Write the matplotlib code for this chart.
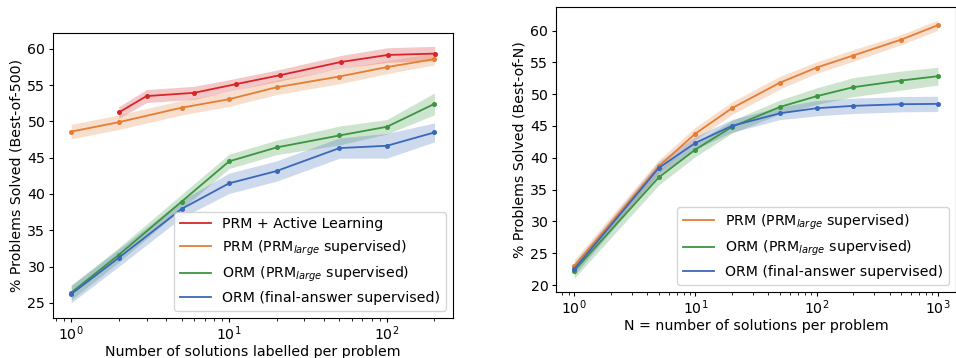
import numpy as np
import matplotlib
matplotlib.use('Agg')
import matplotlib.pyplot as plt

# left panel: active learning / labelling budget
n_lab = [1, 2, 5, 10, 20, 50, 100, 200]
n_lab_al = [2, 3, 6, 11, 21, 51, 101, 201]
al_prm = [51.24, 53.5, 53.95, 55.14, 56.38, 58.2, 59.17, 59.36]
al_prm_err = [0.8, 0.9, 0.9, 0.8, 0.8, 0.9, 1.0, 1.0]
lab_prm = [48.6, 49.9, 51.9, 53.07, 54.72, 56.2, 57.5, 58.6]
lab_prm_err = [1.0, 1.0, 1.0, 1.0, 1.0, 1.0, 0.9, 0.8]
lab_orm_prm = [26.4, 31.6, 38.94, 44.5, 46.42, 48.07, 49.27, 52.43]
lab_orm_prm_err = [1.0, 1.0, 1.0, 1.0, 1.0, 1.3, 1.0, 1.5]
lab_orm_fa = [26.2, 31.2, 37.94, 41.47, 43.17, 46.33, 46.65, 48.49]
lab_orm_fa_err = [1.2, 1.2, 1.2, 1.4, 1.4, 1.4, 1.7, 1.3]

# right panel: best-of-N
n_sol = [1, 5, 10, 20, 50, 100, 200, 500, 1000]
bon_prm = [22.95, 38.67, 43.8, 47.79, 51.82, 54.18, 56.07, 58.58, 60.84]
bon_prm_err = [1.0, 1.0, 1.0, 1.0, 1.0, 0.9, 0.9, 0.8, 0.8]
bon_orm_prm = [22.26, 36.94, 41.29, 44.85, 48.0, 49.68, 51.09, 52.14, 52.82]
bon_orm_prm_err = [1.2, 1.2, 1.1, 1.0, 1.1, 1.3, 1.5, 1.5, 1.4]
bon_orm_fa = [22.5, 38.41, 42.34, 45.01, 47.0, 47.79, 48.16, 48.42, 48.47]
bon_orm_fa_err = [1.0, 1.0, 1.0, 1.0, 1.0, 1.2, 1.2, 1.2, 1.2]

c_red = '#d62728'
c_orange = '#e47e35'
c_green = '#3b963f'
c_blue = '#3a68b8'

plt.rcParams.update({
    'font.size': 10.2,
    'xtick.major.size': 3,
    'ytick.major.size': 3,
    'xtick.minor.size': 2,
    'xtick.major.pad': 1.8,
    'ytick.major.pad': 2.5,
    'legend.fontsize': 10.2,
})


def curva(ax, x, y, err, cor, rotulo):
    y = np.array(y)
    err = np.array(err)
    ax.fill_between(x, y - err, y + err, color=cor, alpha=0.25, linewidth=0)
    ax.plot(x, y, color=cor, lw=1.3, label=rotulo)
    ax.plot(x, y, color=cor, ls='none', marker='o', markersize=2.6)


fig = plt.figure(figsize=(9.56, 3.58), dpi=100)
ax1 = fig.add_axes([53 / 956, 40 / 358, 400 / 956, 285 / 358])
ax2 = fig.add_axes([556 / 956, 66 / 358, 400 / 956, 285 / 358])

curva(ax1, n_lab_al, al_prm, al_prm_err, c_red, 'PRM + Active Learning')
curva(ax1, n_lab, lab_prm, lab_prm_err, c_orange, 'PRM (PRM$_{large}$ supervised)')
curva(ax1, n_lab, lab_orm_prm, lab_orm_prm_err, c_green, 'ORM (PRM$_{large}$ supervised)')
curva(ax1, n_lab, lab_orm_fa, lab_orm_fa_err, c_blue, 'ORM (final-answer supervised)')
ax1.set_xscale('log')
ax1.set_ylim(22.9, 62.2)
ax1.set_yticks([25, 30, 35, 40, 45, 50, 55, 60])
ax1.set_xlabel('Number of solutions labelled per problem', labelpad=1)
ax1.set_ylabel('% Problems Solved (Best-of-500)', labelpad=3)
ax1.legend(loc='lower right', handlelength=2.2)

curva(ax2, n_sol, bon_prm, bon_prm_err, c_orange, 'PRM (PRM$_{large}$ supervised)')
curva(ax2, n_sol, bon_orm_prm, bon_orm_prm_err, c_green, 'ORM (PRM$_{large}$ supervised)')
curva(ax2, n_sol, bon_orm_fa, bon_orm_fa_err, c_blue, 'ORM (final-answer supervised)')
ax2.set_xscale('log')
ax2.set_ylim(18.9, 63.7)
ax2.set_yticks([20, 25, 30, 35, 40, 45, 50, 55, 60])
ax2.set_xlabel('N = number of solutions per problem', labelpad=1)
ax2.set_ylabel('% Problems Solved (Best-of-N)', labelpad=3)
ax2.legend(loc='lower right', handlelength=2.2)

fig.savefig('out.png', dpi=100)
